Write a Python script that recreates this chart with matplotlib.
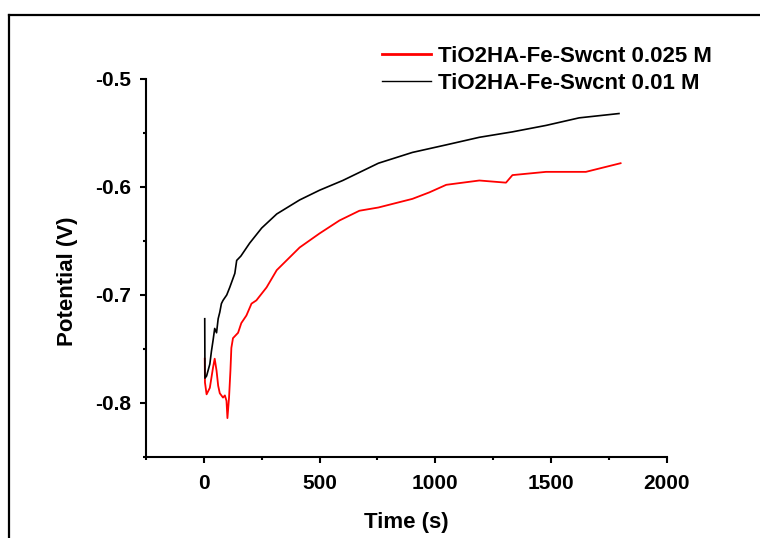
import matplotlib.pyplot as plt
from matplotlib.lines import Line2D
from matplotlib.ticker import MultipleLocator

plt.rcParams['font.family'] = ['Liberation Sans', 'DejaVu Sans']
plt.rcParams['font.weight'] = 'bold'

# TiO2HA-Fe-Swcnt 0.025 M (red)
t_red = [4, 5, 12, 26, 40, 47, 55, 62, 69, 83, 91, 98, 102, 109, 115, 119, 126,
         148, 162, 184, 206, 227, 271, 315, 414, 500, 586, 672, 754, 901, 974,
         1047, 1190, 1305, 1333, 1478, 1650, 1800]
v_red = [-0.759, -0.781, -0.792, -0.786, -0.767, -0.759, -0.770, -0.784, -0.791,
         -0.795, -0.793, -0.798, -0.814, -0.795, -0.770, -0.749, -0.740,
         -0.735, -0.726, -0.719, -0.708, -0.705, -0.693, -0.677, -0.656, -0.643,
         -0.631, -0.622, -0.619, -0.611, -0.605, -0.598, -0.594, -0.596, -0.589,
         -0.586, -0.586, -0.578]

# TiO2HA-Fe-Swcnt 0.01 M (black)
t_black = [4, 5, 12, 26, 33, 40, 47, 55, 62, 69, 76, 83, 99, 112, 134, 142, 160,
           198, 250, 315, 414, 500, 600, 754, 901, 1047, 1190, 1332, 1478, 1621,
           1793]
v_black = [-0.722, -0.777, -0.775, -0.764, -0.752, -0.742, -0.731, -0.735, -0.722,
           -0.716, -0.708, -0.705, -0.700, -0.693, -0.680, -0.668, -0.664,
           -0.652, -0.638, -0.625, -0.612, -0.603, -0.594, -0.578, -0.568,
           -0.561, -0.554, -0.549, -0.543, -0.536, -0.532]

labels = ['TiO2HA-Fe-Swcnt 0.025 M', 'TiO2HA-Fe-Swcnt 0.01 M']

fig = plt.figure(figsize=(7.6, 5.38), dpi=100)
ax = fig.add_axes([0.192, 0.1506, 0.6855, 0.7026])

ax.plot(t_red, v_red, color='#ff0000', lw=1.3, label=labels[0])
ax.plot(t_black, v_black, color='black', lw=1.2, label=labels[1])

ax.set_xlim(-250, 2000)
ax.set_ylim(-0.85, -0.5)
ax.xaxis.set_major_locator(MultipleLocator(500))
ax.xaxis.set_minor_locator(MultipleLocator(250))
ax.yaxis.set_major_locator(MultipleLocator(0.1))
ax.yaxis.set_minor_locator(MultipleLocator(0.05))
ax.set_xticks([0, 500, 1000, 1500, 2000])
ax.set_yticks([-0.8, -0.7, -0.6, -0.5])
ax.set_yticklabels(['-0.8', '-0.7', '-0.6', '-0.5'])

for s in ['top', 'right']:
    ax.spines[s].set_visible(False)
for s in ['left', 'bottom']:
    ax.spines[s].set_linewidth(1.5)

ax.tick_params(which='major', direction='out', length=4.5, width=1.5, labelsize=15)
ax.tick_params(which='minor', direction='out', length=2.5, width=1.5)
ax.tick_params(axis='x', which='major', pad=8)
ax.tick_params(axis='y', which='major', pad=6)

ax.set_xlabel('Time (s)', fontsize=16, fontweight='bold')
ax.set_ylabel('Potential (V)', fontsize=16, fontweight='bold')
ax.xaxis.set_label_coords(0.5, -0.145)
ax.yaxis.set_label_coords(-0.13, 0.466)

leg = ax.legend(loc='upper left', bbox_to_anchor=(382 / 760, 1 - 46 / 538),
                bbox_transform=fig.transFigure, frameon=False, fontsize=16,
                handlelength=2.2, handletextpad=0.3, labelspacing=0.25,
                borderpad=0, borderaxespad=0)
leg.get_lines()[0].set_linewidth(2)
leg.get_lines()[1].set_linewidth(1)

# outer frame (only left and top edges visible in the picture)
fig.add_artist(Line2D([9 / 760, 9 / 760], [0, 1 - 15 / 538], color='black',
                      lw=1.6, transform=fig.transFigure))
fig.add_artist(Line2D([9 / 760, 1], [1 - 15 / 538, 1 - 15 / 538], color='black',
                      lw=1.6, transform=fig.transFigure))

fig.savefig('out.png', dpi=100)
